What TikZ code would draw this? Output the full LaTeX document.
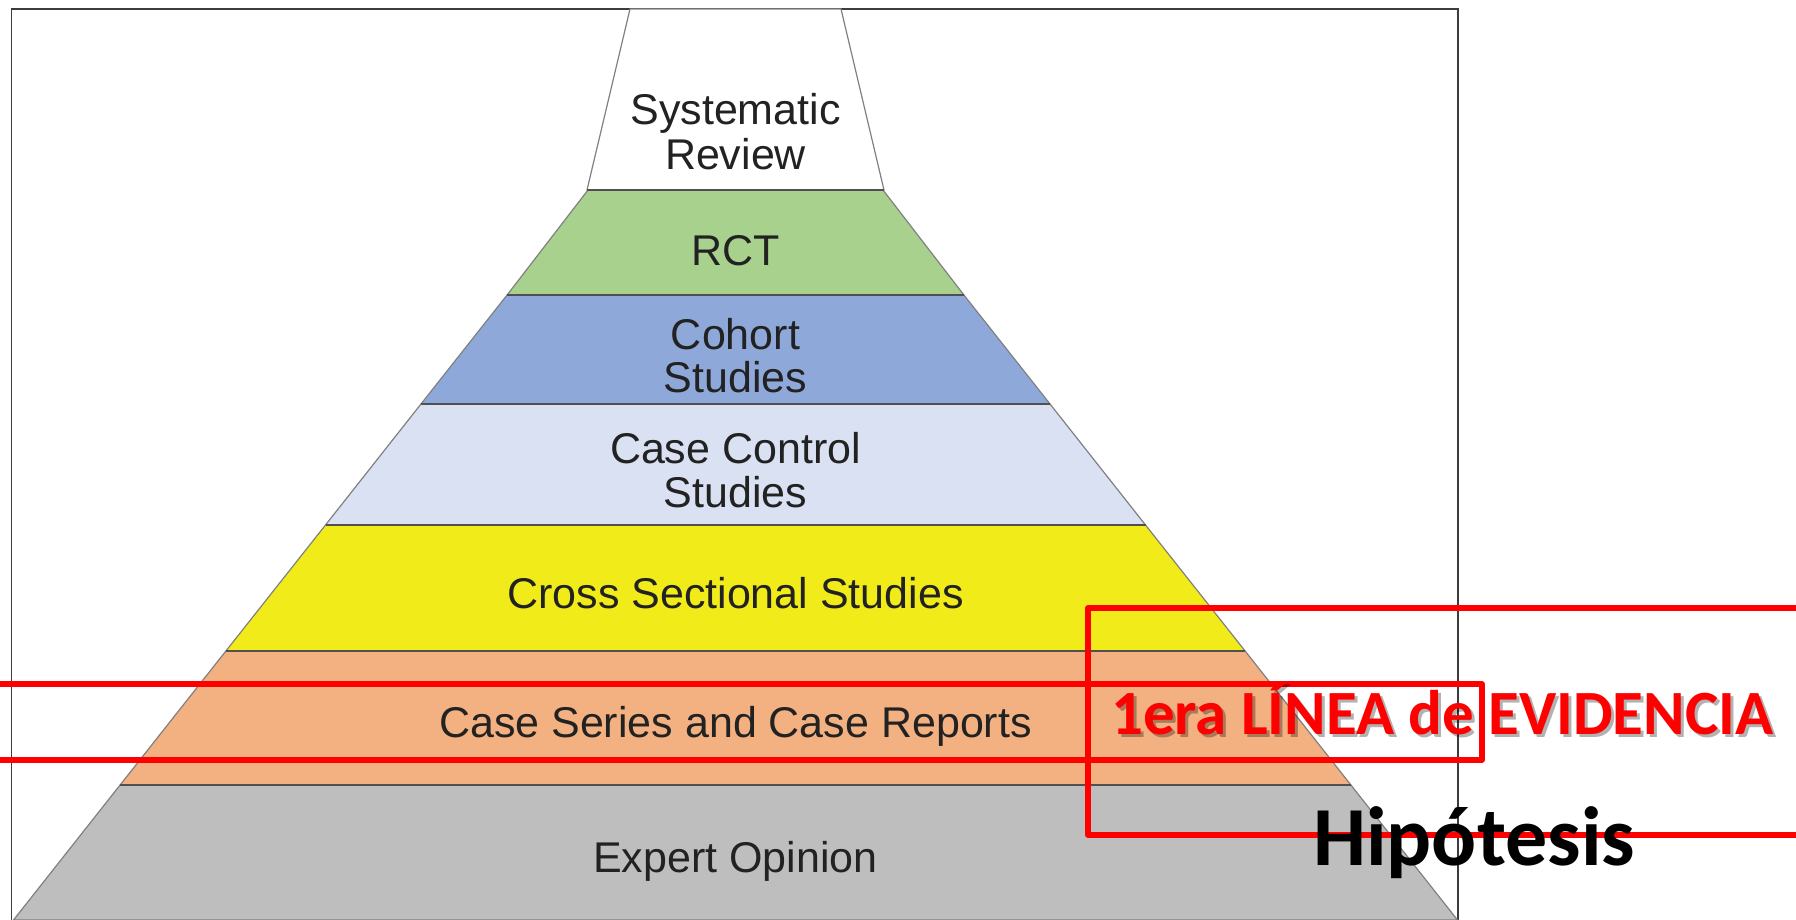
\documentclass[tikz,border=0pt]{standalone}
\usepackage{fontspec}
\setmainfont{Liberation Sans}
\newfontfamily\calibri{Carlito}
\definecolor{edgegray}{RGB}{128,128,128}
\definecolor{sepgray}{RGB}{80,80,80}
\definecolor{framegray}{RGB}{60,60,60}
\definecolor{labeltext}{RGB}{34,34,34}
\definecolor{rctgreen}{RGB}{169,209,142}
\definecolor{cohortblue}{RGB}{142,169,217}
\definecolor{ccblue}{RGB}{217,225,242}
\definecolor{csyellow}{RGB}{241,235,26}
\definecolor{seriesorange}{RGB}{243,176,128}
\definecolor{expertgray}{RGB}{190,190,190}
\definecolor{hotred}{RGB}{255,0,0}
\begin{document}
\begin{tikzpicture}[x=1pt,y=-1pt,
  band/.style={draw=edgegray, line width=1.2pt, line join=round},
  sep/.style={draw=sepgray, line width=2.6pt},
  lbl/.style={anchor=base, inner sep=0pt, text=labeltext,
    font=\fontsize{43}{45}\selectfont},
  frameline/.style={draw=framegray, line width=1.5pt},
  redbox/.style={draw=hotred, line width=5.2pt, line join=round},
  redtext/.style={anchor=base west, inner sep=0pt, text=hotred,
    font=\calibri\bfseries\fontsize{63}{63}\selectfont},
  redshadow/.style={anchor=base west, inner sep=0pt, text=black, opacity=0.3,
    font=\calibri\bfseries\fontsize{63}{63}\selectfont},
  bigtext/.style={anchor=base west, inner sep=0pt, text=black,
    font=\calibri\bfseries\fontsize{84}{84}\selectfont}]
\useasboundingbox (0,0) rectangle (1796,920);
\fill[white] (0,0) rectangle (1796,920);

% outer frame, open at the bottom
\draw[frameline] (11.5,940) |- (1458,9) -- (1458,940);

% pyramid bands, top to bottom
\path[band, fill=white]        (630,9) -- (841,9) -- (884,190) -- (587,190) -- cycle;
\path[band, fill=rctgreen]     (588,190) -- (883,190) -- (963.9,295) -- (507.1,295) -- cycle;
\path[band, fill=cohortblue]   (507.1,295) -- (963.9,295) -- (1050,404) -- (421,404) -- cycle;
\path[band, fill=ccblue]       (421,404) -- (1050,404) -- (1145.5,525) -- (325.5,525) -- cycle;
\path[band, fill=csyellow]     (325.5,525) -- (1145.5,525) -- (1245.1,651) -- (225.9,651) -- cycle;
\path[band, fill=seriesorange] (225.9,651) -- (1245.1,651) -- (1350.9,785) -- (120.1,785) -- cycle;
\path[band, fill=expertgray]   (120.1,785) -- (1350.9,785) -- (1457.5,920) -- (13.5,920) -- cycle;

% darker separators between the bands
\draw[sep] (587,190) -- (884,190);
\draw[sep] (507.1,295) -- (963.9,295);
\draw[sep] (421,404) -- (1050,404);
\draw[sep] (325.5,525) -- (1145.5,525);
\draw[sep] (225.9,651) -- (1245.1,651);
\draw[sep] (120.1,785) -- (1350.9,785);

% band labels
\node[lbl] (sr1) at (735.5,125) {Systematic};
\node[lbl] (sr2) at (735.5,170) {Review};
\node[lbl] (rct) at (735.5,265) {RCT};
\node[lbl] (co1) at (735.5,349) {Cohort};
\node[lbl] (co2) at (735.5,392.5) {Studies};
\node[lbl] (cc1) at (735.5,463.5) {Case Control};
\node[lbl] (cc2) at (735.5,507.5) {Studies};
\node[lbl] (css) at (735.5,608) {Cross Sectional Studies};
\node[lbl] (ser) at (735.5,737) {Case Series and Case Reports};
\node[lbl] (exp) at (735.5,872.5) {Expert Opinion};

% red highlight boxes
\draw[redbox] (-20,684) rectangle (1482,760);
\draw[redbox] (1088,608) rectangle (1830,835);

% annotations
\node[redshadow] (evs) at (1114,737.5) {1era LÍNEA de EVIDENCIA};
\node[redtext] (ev) at (1111,734) {1era LÍNEA de EVIDENCIA};
\node[bigtext] (hip) at (1313,865) {Hipótesis};
\end{tikzpicture}
\end{document}
